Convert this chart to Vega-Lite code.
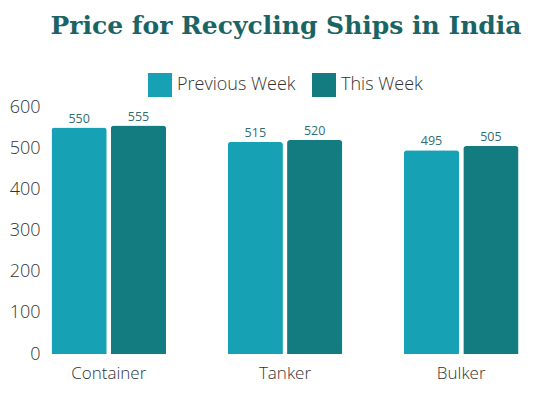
{
  "$schema": "https://vega.github.io/schema/vega-lite/v6.json",
  "autosize": {"type": "none"},
  "width": 474,
  "height": 247,
  "padding": {"left": 48, "top": 107, "right": 32, "bottom": 41},
  "background": "white",
  "title": {
    "text": "Price for Recycling Ships in India",
    "font": "DejaVu Serif",
    "fontWeight": "bold",
    "fontSize": 25,
    "color": "#1B6466",
    "anchor": "middle",
    "frame": "group",
    "dx": 1,
    "offset": 34
  },
  "config": {
    "view": {"stroke": null},
    "font": "Open Sans"
  },
  "data": {
    "values": [
      {"type": "Container", "week": "Previous Week", "price": 550},
      {"type": "Container", "week": "This Week", "price": 555},
      {"type": "Tanker", "week": "Previous Week", "price": 515},
      {"type": "Tanker", "week": "This Week", "price": 520},
      {"type": "Bulker", "week": "Previous Week", "price": 495},
      {"type": "Bulker", "week": "This Week", "price": 505}
    ]
  },
  "encoding": {
    "x": {
      "field": "type",
      "type": "nominal",
      "sort": ["Container", "Tanker", "Bulker"],
      "scale": {"paddingInner": 0.35, "paddingOuter": 0.02},
      "axis": {
        "title": null,
        "labelAngle": 0,
        "domain": false,
        "ticks": false,
        "labelFont": "Open Sans",
        "labelFontSize": 17,
        "labelFontWeight": 300,
        "labelColor": "#333333",
        "labelPadding": 11
      }
    },
    "xOffset": {
      "field": "week",
      "type": "nominal",
      "sort": ["Previous Week", "This Week"],
      "scale": {"paddingInner": 0.07}
    },
    "y": {
      "field": "price",
      "type": "quantitative",
      "scale": {"domain": [0, 600]},
      "axis": {
        "title": null,
        "values": [0, 100, 200, 300, 400, 500, 600],
        "grid": false,
        "domain": false,
        "ticks": false,
        "labelFont": "Open Sans",
        "labelFontSize": 18,
        "labelFontWeight": 300,
        "labelColor": "#333333",
        "labelPadding": 8
      }
    }
  },
  "layer": [
    {
      "mark": {"type": "bar", "cornerRadiusTopLeft": 3, "cornerRadiusTopRight": 3},
      "encoding": {
        "color": {
          "field": "week",
          "type": "nominal",
          "sort": ["Previous Week", "This Week"],
          "scale": {"range": ["#17A1B5", "#137C81"]},
          "legend": {
            "title": null,
            "orient": "none",
            "legendX": 100,
            "legendY": -34,
            "direction": "horizontal",
            "symbolType": "square",
            "symbolSize": 576,
            "symbolStrokeWidth": 0,
            "labelFont": "Open Sans",
            "labelFontSize": 18,
            "labelFontWeight": 300,
            "labelColor": "#333333",
            "columnPadding": 16,
            "labelOffset": 5
          }
        }
      }
    },
    {
      "mark": {"type": "text", "dy": -9, "fontSize": 12.5, "font": "Open Sans", "color": "#2F6E72"},
      "encoding": {
        "text": {"field": "price", "type": "quantitative"}
      }
    }
  ]
}
